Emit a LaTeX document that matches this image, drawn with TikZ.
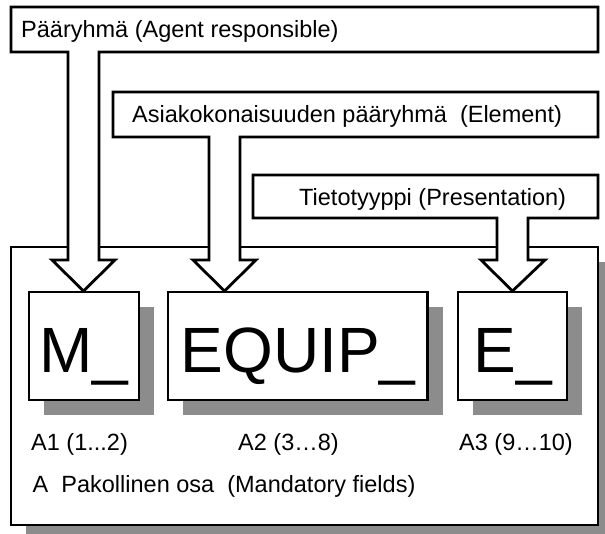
\documentclass[tikz,border=0pt]{standalone}
\usepackage{fontspec}
\setmainfont{Liberation Sans}
\definecolor{shadowgray}{RGB}{140,140,140}
\tikzset{
  frame/.style={draw=black, line width=2.8pt, fill=white, line join=miter},
  shade/.style={fill=shadowgray, draw=none},
  lbl/.style={inner sep=0pt, anchor=base west, font=\fontsize{23.5}{28}\selectfont},
  big/.style={inner sep=0pt, anchor=base, font=\fontsize{64}{70}\selectfont},
}
\begin{document}
\begin{tikzpicture}[x=1pt,y=-1pt]
\useasboundingbox (0,0) rectangle (605,533);
% outer mandatory area
\fill[shade] (26,262) rectangle (610,540);
\draw[frame] (11,247) rectangle (598,525);
% field boxes with shadows
\fill[shade] (44,307) rectangle (154,415);
\fill[shade] (183,307) rectangle (442.5,415);
\fill[shade] (473,307) rectangle (582,415);
\draw[frame] (29,292) rectangle (139,400);
\draw[frame] (168,292) rectangle (427.5,400);
\draw[frame] (458,292) rectangle (567,400);
\node[big] (m) at (84,372) {M\_};
\node[big] (equip) at (298,372) {EQUIP\_};
\node[big] (e) at (512.5,372) {E\_};
% labels under the boxes
\node[lbl] (a1) at (31,450) {A1 (1...2)};
\node[lbl] (a2) at (238,450) {A2 (3…8)};
\node[lbl] (a3) at (459,450) {A3 (9…10)};
\node[lbl] (a) at (32.5,492.7) {A\ \ Pakollinen osa\ \ (Mandatory fields)};
% label boxes with block arrows
\draw[frame] (11,7) -- (598,7) -- (598,52) -- (99,52) -- (99,260) -- (115,260)
  -- (83.5,291) -- (52,260) -- (68,260) -- (68,52) -- (11,52) -- cycle;
\draw[frame] (113,92) -- (598,92) -- (598,137) -- (240,137) -- (240,260) -- (256,260)
  -- (224.5,291) -- (193,260) -- (209,260) -- (209,137) -- (113,137) -- cycle;
\draw[frame] (253,175) -- (598,175) -- (598,218) -- (528,218) -- (528,260) -- (545,260)
  -- (512.5,291) -- (481,260) -- (497,260) -- (497,218) -- (253,218) -- cycle;
\node[lbl] (agent) at (21,37.3) {Pääryhmä (Agent responsible)};
\node[lbl] (element) at (132,122.3) {Asiakokonaisuuden pääryhmä\ \ (Element)};
\node[lbl] (present) at (299,205) {Tietotyyppi (Presentation)};
\end{tikzpicture}
\end{document}
